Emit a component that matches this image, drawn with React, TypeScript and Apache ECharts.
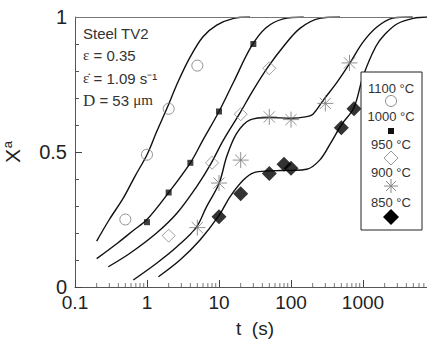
import React, { useEffect, useRef } from 'react';
import * as echarts from 'echarts';

// ---- data ----
const seriesNames = ['1100 °C', '1000 °C', '950 °C', '900 °C', '850 °C'];

// measured points [t (s), Xa]
const pts1100 = [[0.5, 0.25], [1, 0.49], [2, 0.66], [5, 0.82]];
const pts1000 = [[1, 0.24], [2, 0.35], [4, 0.46], [10, 0.65], [30, 0.9]];
const pts950 = [[2, 0.19], [8, 0.46], [20, 0.64], [50, 0.81]];
const pts900 = [[5, 0.22], [10, 0.385], [20, 0.47], [50, 0.63], [100, 0.62], [300, 0.68], [650, 0.83]];
const pts850 = [[10, 0.26], [20, 0.345], [50, 0.42], [80, 0.455], [100, 0.44], [500, 0.59], [750, 0.66]];

// fitted curves [t (s), Xa]
const fit1100 = [[0.2, 0.17], [0.3, 0.25], [0.47, 0.33], [0.68, 0.41], [1, 0.49], [1.36, 0.575], [1.9, 0.663], [2.7, 0.76], [4, 0.853], [6, 0.927], [9.3, 0.97], [16, 0.995], [27, 1]];
const fit1000 = [[0.2, 0.105], [0.4, 0.165], [0.65, 0.21], [1, 0.25], [2, 0.35], [4, 0.46], [6, 0.545], [10, 0.65], [16, 0.76], [28, 0.89], [45, 0.96], [78, 0.993], [150, 1]];
const fit950 = [[0.29, 0.075], [0.58, 0.125], [1.36, 0.2], [2.6, 0.273], [4.9, 0.372], [7.7, 0.456], [11.5, 0.544], [19.5, 0.644], [30, 0.73], [48, 0.815], [78, 0.89], [133, 0.958], [250, 0.995], [480, 1]];
const fit900 = [[0.645, 0.026], [1.36, 0.088], [2.6, 0.149], [4.8, 0.22], [6.7, 0.297], [10, 0.383], [12.8, 0.483], [17.6, 0.569], [27, 0.619], [50, 0.628], [100, 0.625], [166, 0.631], [202, 0.64], [283, 0.693], [437, 0.759], [660, 0.83], [1000, 0.907], [1560, 0.963], [2600, 0.996], [4900, 1]];
const fit850 = [[1.44, 0.038], [2.87, 0.1], [5.45, 0.174], [10, 0.265], [14.2, 0.334], [21.8, 0.396], [30, 0.423], [50, 0.43], [100, 0.432], [166, 0.436], [250, 0.47], [350, 0.53], [500, 0.6], [750, 0.665], [1000, 0.78], [1500, 0.89], [2000, 0.935], [3000, 0.975], [5000, 0.995], [8000, 1]];

const xMin = 0.1;
const xMax = 10000;
const topLineEnd = 5000;
const minorXTicks = [
  0.2, 0.3, 0.4, 0.5, 0.6, 0.7, 0.8, 0.9,
  2, 3, 4, 5, 6, 7, 8, 9,
  20, 30, 40, 50, 60, 70, 80, 90,
  200, 300, 400, 500, 600, 700, 800, 900,
  2000, 3000, 4000, 5000, 6000, 7000, 8000, 9000,
];

const textInfo = ['Steel TV2', '= 0.35', '= 1.09 s⁻¹', 'D', '= 53', 'μm'];

const ASTER = 'path://M0,-8L0,8M-8,0L8,0M-5.6,-5.6L5.6,5.6M-5.6,5.6L5.6,-5.6';

export default function App() {
  const ref = useRef<HTMLDivElement>(null);
  useEffect(() => {
    document.body.style.margin = '0';
    const chart = echarts.init(ref.current!, null, { renderer: 'svg' });
    const curveStyle = { color: '#111', width: 1.4 };
    const fits = [fit1100, fit1000, fit950, fit900, fit850];
    const pts = [pts1100, pts1000, pts950, pts900, pts850];
    const markerDefs: any[] = [
      { symbol: 'circle', symbolSize: 11, itemStyle: { color: 'rgba(0,0,0,0)', borderColor: '#777', borderWidth: 1 } },
      { symbol: 'rect', symbolSize: 6, itemStyle: { color: '#111' } },
      { symbol: 'diamond', symbolSize: 13, itemStyle: { color: 'rgba(0,0,0,0)', borderColor: '#888', borderWidth: 1 } },
      { symbol: ASTER, symbolSize: 16, itemStyle: { color: 'none', borderColor: '#777', borderWidth: 1 } },
      { symbol: 'diamond', symbolSize: 15, itemStyle: { color: '#000' } },
    ];
    const series: any[] = [];
    fits.forEach((f, i) => {
      const s: any = {
        name: seriesNames[i] + ' fit',
        type: 'line',
        data: f,
        showSymbol: false,
        smooth: 0.35,
        lineStyle: curveStyle,
        z: 3,
        silent: true,
      };
      if (i === 0) {
        s.markLine = {
          silent: true,
          symbol: 'none',
          label: { show: false },
          lineStyle: { color: '#777', width: 1, type: 'solid' },
          data: [[{ coord: [xMin, 1] }, { coord: [topLineEnd, 1] }]],
        };
      }
      series.push(s);
    });
    pts.forEach((p, i) => {
      series.push({
        name: seriesNames[i],
        type: 'scatter',
        data: p,
        z: 4,
        ...markerDefs[i],
      });
    });
    // minor log ticks (2..9 per decade) on the x axis, placed through the axis scale
    series.push({
      name: 'minor ticks',
      type: 'scatter',
      silent: true,
      clip: false,
      z: 5,
      symbol: 'rect',
      symbolSize: [1, 4],
      symbolOffset: [0, -2],
      itemStyle: { color: '#555' },
      data: minorXTicks.map((v) => [v, 0]),
    });

    const lx = 391;
    const legendY = [88, 116, 144, 172, 202];
    const symY = [101, 131, 158, 186, 217];
    const legendTexts = seriesNames.map((n, i) => ({
      type: 'text', z: 101, style: { text: n, x: lx, y: legendY[i], textAlign: 'center', textVerticalAlign: 'middle', fontSize: 13, fontFamily: 'Liberation Sans, Arial', fill: '#333' },
    }));
    const aster = (cx: number, cy: number) => ({
      type: 'group', z: 101,
      children: [
        [0, -7, 0, 7], [-7, 0, 7, 0], [-5, -5, 5, 5], [-5, 5, 5, -5],
      ].map((l) => ({ type: 'line', z: 101, shape: { x1: cx + l[0], y1: cy + l[1], x2: cx + l[2], y2: cy + l[3] }, style: { stroke: '#888', lineWidth: 1 } })),
    });

    const font = 'Liberation Sans, Arial, sans-serif';
    const serif = 'Liberation Serif, Times New Roman, serif';
    const annoStyle = { fontSize: 15, fontFamily: font, fill: '#333' };

    chart.setOption({
      animation: false,
      grid: { left: 75, top: 17, right: -8, bottom: 58, outerBoundsMode: 'none', containLabel: false },
      xAxis: {
        type: 'log', min: xMin, max: xMax, logBase: 10,
        name: 't  (s)', nameLocation: 'middle', nameGap: 32,
        nameTextStyle: { fontSize: 19, fontFamily: font, color: '#222' },
        axisLine: { show: true, lineStyle: { color: '#555', width: 1 } },
        axisTick: { show: true, inside: true, length: 7, lineStyle: { color: '#444', width: 1 } },
        axisLabel: {
          fontSize: 19, fontFamily: font, color: '#222', margin: 6,
          formatter: (v: number) => (v >= xMax ? '' : String(+v.toPrecision(6))),
        },
        splitLine: { show: false },
        minorTick: { show: false },
      },
      yAxis: {
        type: 'value', min: 0, max: 1, interval: 0.5,
        name: '{X|X}{a|a}', nameLocation: 'middle', nameGap: 52, nameRotate: 90,
        nameTextStyle: {
          rich: {
            X: { fontSize: 21, fontFamily: font, color: '#222', lineHeight: 22, verticalAlign: 'bottom' },
            a: { fontSize: 13, fontFamily: font, color: '#222', lineHeight: 22, verticalAlign: 'top', padding: [0, 0, 0, 1] },
          },
        },
        axisLine: { show: true, lineStyle: { color: '#555', width: 1 } },
        axisTick: { show: true, inside: true, length: 7, lineStyle: { color: '#444', width: 1 } },
        minorTick: { show: true, splitNumber: 5, length: 4, lineStyle: { color: '#555', width: 1 } },
        axisLabel: { fontSize: 20, fontFamily: font, color: '#222', margin: 8 },
        splitLine: { show: false },
      },
      series,
      graphic: [
        { type: 'text', z: 101, style: { text: textInfo[0], x: 83, y: 33, textVerticalAlign: 'middle', ...annoStyle } },
        { type: 'text', z: 101, style: { text: '{e|ε} ' + textInfo[1], x: 83, y: 55, textVerticalAlign: 'middle', ...annoStyle, rich: { e: { fontFamily: serif, fontSize: 15, fill: '#333' } } } },
        { type: 'text', z: 101, style: { text: '{e|ε̇} ' + textInfo[2], x: 83, y: 78, textVerticalAlign: 'middle', ...annoStyle, rich: { e: { fontFamily: serif, fontSize: 15, fill: '#333' } } } },
        { type: 'text', z: 101, style: { text: '{d|' + textInfo[3] + '} ' + textInfo[4] + ' {m|' + textInfo[5] + '}', x: 83, y: 100, textVerticalAlign: 'middle', ...annoStyle, rich: { d: { fontFamily: serif, fontSize: 17, fill: '#333' }, m: { fontFamily: serif, fontSize: 15, fill: '#333' } } } },
        { type: 'rect', z: 100, shape: { x: 361, y: 72, width: 61, height: 158 }, style: { fill: '#fff', stroke: '#222', lineWidth: 1 } },
        ...legendTexts,
        { type: 'circle', z: 101, shape: { cx: lx, cy: symY[0], r: 5.5 }, style: { fill: 'none', stroke: '#888', lineWidth: 1 } },
        { type: 'rect', z: 101, shape: { x: lx - 3, y: symY[1] - 3, width: 6, height: 6 }, style: { fill: '#111' } },
        { type: 'polygon', z: 101, shape: { points: [[lx, symY[2] - 7], [lx + 7, symY[2]], [lx, symY[2] + 7], [lx - 7, symY[2]]] }, style: { fill: 'none', stroke: '#999', lineWidth: 1 } },
        aster(lx, symY[3]),
        { type: 'polygon', z: 101, shape: { points: [[lx, symY[4] - 8], [lx + 8, symY[4]], [lx, symY[4] + 8], [lx - 8, symY[4]]] }, style: { fill: '#000' } },
      ],
    });
    return () => chart.dispose();
  }, []);
  return <div ref={ref} style={{ width: 427, height: 345 }} />;
}
